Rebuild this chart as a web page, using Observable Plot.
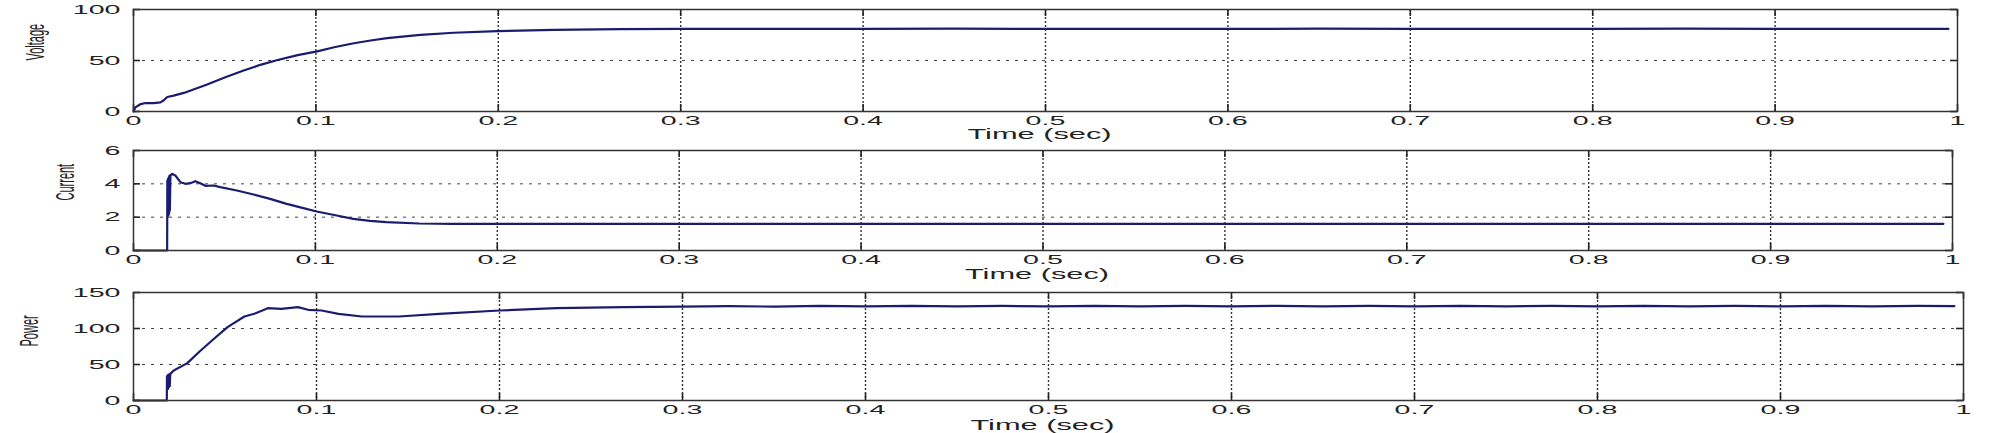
<!DOCTYPE html>
<html><head><meta charset="utf-8">
<script src="https://cdn.jsdelivr.net/npm/d3@7"></script>
<script src="https://cdn.jsdelivr.net/npm/@observablehq/plot@0.6"></script>
<style>
html,body{margin:0;padding:0;background:#fff;}
#chart{width:1989px;height:433px;overflow:hidden;}
#chart svg{display:block;}
</style></head><body><div id="chart"></div>
<script>
const xTicks = [0, 0.1, 0.2, 0.3, 0.4, 0.5, 0.6, 0.7, 0.8, 0.9, 1];
const xTickLabels = ["0", "0.1", "0.2", "0.3", "0.4", "0.5", "0.6", "0.7", "0.8", "0.9", "1"];
const timeLabel = "Time (sec)";

const voltageTicks = [0, 50, 100];
const currentTicks = [0, 2, 4, 6];
const powerTicks = [0, 50, 100, 150];

const voltageTime = [0, 0.001, 0.004, 0.0066, 0.011, 0.0148, 0.0166, 0.0185, 0.022, 0.0276, 0.04, 0.05, 0.06, 0.07, 0.079, 0.09, 0.1007, 0.11, 0.1208, 0.13, 0.139, 0.1573, 0.1756, 0.1994, 0.2304, 0.267, 0.3, 0.35, 0.4, 0.45, 0.5, 0.55, 0.6, 0.65, 0.7, 0.75, 0.8, 0.85, 0.9, 0.95, 0.995];
const voltageValues = [0, 4, 7.3, 8.3, 8.3, 9, 11, 14.2, 15.6, 18.2, 26.3, 33.3, 40, 46, 50.5, 55.3, 58.9, 63, 66.9, 69.6, 71.9, 75.2, 77.2, 78.8, 80.1, 80.8, 81, 81.1, 81, 81.2, 81, 81.1, 81, 81.2, 81, 81.1, 81, 81.2, 81, 81.1, 81];

const currentTime = [0, 0.0185, 0.0186, 0.0188, 0.019, 0.0192, 0.0194, 0.0196, 0.0198, 0.02, 0.0203, 0.0212, 0.023, 0.0258, 0.0285, 0.0312, 0.034, 0.0367, 0.0395, 0.044, 0.0477, 0.0568, 0.066, 0.0751, 0.0842, 0.0934, 0.1007, 0.1117, 0.1208, 0.13, 0.139, 0.157, 0.1756, 0.2, 0.3, 0.4, 0.5, 0.6, 0.7, 0.8, 0.9, 0.995];
const currentValues = [0, 0, 4.2, 2.0, 4.3, 2.1, 4.4, 2.2, 4.5, 2.4, 4.5, 4.6, 4.5, 4.1, 4.0, 4.04, 4.16, 4.04, 3.88, 3.9, 3.8, 3.6, 3.36, 3.1, 2.8, 2.54, 2.34, 2.1, 1.9, 1.78, 1.7, 1.62, 1.6, 1.6, 1.6, 1.6, 1.6, 1.6, 1.6, 1.6, 1.6, 1.6];

const powerTime = [0, 0.0182, 0.0183, 0.0185, 0.0187, 0.0189, 0.0191, 0.0193, 0.0195, 0.0198, 0.0201, 0.022, 0.0294, 0.0367, 0.044, 0.0514, 0.0606, 0.066, 0.0734, 0.0807, 0.0899, 0.0954, 0.1028, 0.112, 0.1248, 0.145, 0.167, 0.2, 0.231, 0.268, 0.3, 0.325, 0.35, 0.375, 0.4, 0.425, 0.45, 0.475, 0.5, 0.525, 0.55, 0.575, 0.6, 0.625, 0.65, 0.675, 0.7, 0.725, 0.75, 0.775, 0.8, 0.825, 0.85, 0.875, 0.9, 0.925, 0.95, 0.975, 0.995];
const powerValues = [0, 0, 34, 17, 35, 16, 36, 18, 36, 20, 37, 41.7, 51.9, 69.4, 85.7, 101.9, 116.7, 120.4, 128.2, 127.3, 129.6, 126, 125, 120.4, 116.7, 116.7, 120.4, 125, 128.2, 129.6, 130.3, 131, 130.4, 131.3, 130.7, 131.5, 130.8, 131.4, 130.7, 131.5, 130.8, 131.4, 130.7, 131.5, 130.8, 131.4, 130.7, 131.5, 130.8, 131.4, 130.7, 131.5, 130.8, 131.4, 130.7, 131.5, 130.8, 131.4, 131];

const panels = [
  {label: "Voltage", t: voltageTime, v: voltageValues, ticks: voltageTicks, domain: [0, 100], height: 141, mt: 9, mb: 30, mr: 32, labelDx: -99, timeDy: 23},
  {label: "Current", t: currentTime, v: currentValues, ticks: currentTicks, domain: [0, 6], height: 141, mt: 9, mb: 32, mr: 37, labelDx: -69, timeDy: 24},
  {label: "Power", t: powerTime, v: powerValues, ticks: powerTicks, domain: [0, 150], height: 151, mt: 10, mb: 33, mr: 26, labelDx: -105, timeDy: 25}
];

const lineColor = "#1b1b70";
const inkColor = "#222";
const container = document.getElementById("chart");

for (const p of panels) {
  const data = p.t.map((t, i) => ({t, v: p.v[i]}));
  const innerW = 1989 - 133 - p.mr;
  const innerH = p.height - p.mt - p.mb;
  const chart = Plot.plot({
    width: 1989, height: p.height,
    marginLeft: 133, marginRight: p.mr, marginTop: p.mt, marginBottom: p.mb,
    x: {domain: [0, 1]},
    y: {domain: p.domain},
    style: {fontFamily: "'Liberation Sans', Arial, sans-serif", background: "white", color: inkColor, overflow: "visible"},
    marks: [
      Plot.gridX(xTicks.slice(1, -1), {stroke: "#333", strokeOpacity: 1, strokeWidth: 1.4, strokeDasharray: "2,2"}),
      Plot.gridY(p.ticks.slice(1, -1), {stroke: "#444", strokeOpacity: 1, strokeWidth: 1, strokeDasharray: "3,6"}),
      Plot.tickX(xTicks, {x: d => d, stroke: inkColor, strokeWidth: 1.6, insetTop: innerH - 7}),
      Plot.tickX(xTicks, {x: d => d, stroke: inkColor, strokeWidth: 1.6, insetBottom: innerH - 7}),
      Plot.tickY(p.ticks, {y: d => d, stroke: inkColor, strokeWidth: 1.6, insetRight: innerW - 7}),
      Plot.tickY(p.ticks, {y: d => d, stroke: inkColor, strokeWidth: 1.6, insetLeft: innerW - 7}),
      Plot.axisX(xTicks, {tickSize: 0, tickPadding: 4, fontSize: 13, label: null, tickFormat: d => xTickLabels[xTicks.indexOf(d)]}),
      Plot.axisY(p.ticks, {tickSize: 0, tickPadding: 13, fontSize: 13, label: null, tickFormat: d => String(d)}),
      Plot.line(data, {x: "t", y: "v", stroke: lineColor, strokeWidth: 2.2}),
      Plot.frame({stroke: "#333", strokeWidth: 1.5}),
      Plot.text([timeLabel], {frameAnchor: "bottom", dy: p.timeDy, dx: -6, fontSize: 14, lineAnchor: "middle", fill: inkColor}),
      Plot.text([p.label], {frameAnchor: "left", dx: p.labelDx, rotate: -90, fontSize: 11, lineAnchor: "middle", fill: inkColor})
    ]
  });
  container.appendChild(chart);
  // stretch text horizontally to mimic the widened figure
  chart.querySelectorAll("text").forEach(t => {
    const tr = t.getAttribute("transform") || "";
    const rotated = tr.includes("rotate");
    const bb = t.getBBox();
    const anchor = getComputedStyle(t).textAnchor;
    let ox = bb.x + bb.width / 2;
    if (!rotated && anchor === "end") ox = bb.x + bb.width;
    if (!rotated && anchor === "start") ox = bb.x;
    const oy = bb.y + bb.height / 2;
    const sx = rotated ? 1 : 2.2;
    const sy = rotated ? 2.4 : 1;
    t.setAttribute("transform", `${tr} translate(${ox},${oy}) scale(${sx},${sy}) translate(${-ox},${-oy})`.trim());
  });
}
</script>
</body></html>
